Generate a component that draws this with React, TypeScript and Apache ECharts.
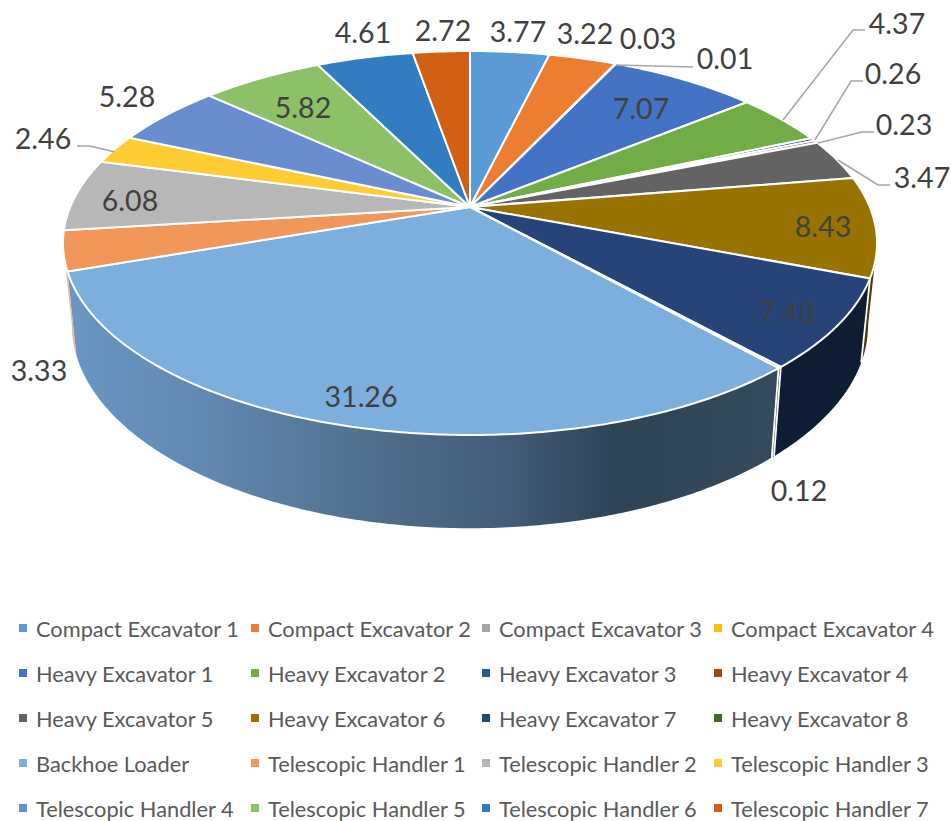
import React, { useEffect, useRef } from "react";
import * as echarts from "echarts";

// Fleet share by machine, in percent, clockwise from twelve o'clock.
const compactExcavators = [3.77, 3.22, 0.03, 0.01];
const heavyExcavators = [7.07, 4.37, 0.26, 0.23, 3.47, 8.43, 7.48, 0.12];
const backhoeLoader = [31.26];
const telescopicHandlers = [3.33, 6.08, 2.46, 5.28, 5.82, 4.61, 2.72];

const categories = [
  "Compact Excavator 1", "Compact Excavator 2", "Compact Excavator 3", "Compact Excavator 4",
  "Heavy Excavator 1", "Heavy Excavator 2", "Heavy Excavator 3", "Heavy Excavator 4",
  "Heavy Excavator 5", "Heavy Excavator 6", "Heavy Excavator 7", "Heavy Excavator 8",
  "Backhoe Loader", "Telescopic Handler 1", "Telescopic Handler 2", "Telescopic Handler 3",
  "Telescopic Handler 4", "Telescopic Handler 5", "Telescopic Handler 6", "Telescopic Handler 7",
];

const sliceColors = [
  "#5B9BD5", "#ED7D31", "#A5A5A5", "#FFC000",
  "#4472C4", "#70AD47", "#255E91", "#9E480E",
  "#636363", "#997300", "#264478", "#43682B",
  "#7CAFDD", "#F1975A", "#B7B7B7", "#FFCD33",
  "#698ED0", "#8CC168", "#327DC2", "#D26012",
];

const values = [...compactExcavators, ...heavyExcavators, ...backhoeLoader, ...telescopicHandlers];
const total = values.reduce((a, b) => a + b, 0);

// Perspective disc: top face and bottom face of the cylinder.
const APEX_X = 470;
const APEX_Y = 207;
const PERSPECTIVE = 0.1875;
const TOP_FACE = { rx: 399.8, ry: 185.25, cy: APEX_Y };
const BOTTOM_FACE = { rx: 391, ry: 196, cy: 287 };
const WALL_FROM = Math.acos(-PERSPECTIVE);
const WALL_TO = 2 * Math.PI - WALL_FROM;

const rimPoint = (face: typeof TOP_FACE, angle: number) => {
  const w = 1 + PERSPECTIVE * Math.cos(angle);
  return [APEX_X + (face.rx * Math.sin(angle)) / w, face.cy - (face.ry * Math.cos(angle)) / w];
};

const arcPoints = (face: typeof TOP_FACE, a: number, b: number) => {
  const steps = Math.max(2, Math.ceil((b - a) / 0.01));
  const pts: number[][] = [];
  for (let i = 0; i <= steps; i++) pts.push(rimPoint(face, a + ((b - a) * i) / steps));
  return pts;
};

// Shaded fills for the slices whose side wall faces the viewer.
const backhoeWall = new echarts.graphic.LinearGradient(0, 0, 1, 0, [
  { offset: 0, color: "#6A97C4" },
  { offset: 0.2, color: "#6188B0" },
  { offset: 0.42, color: "#50708F" },
  { offset: 0.62, color: "#425C78" },
  { offset: 0.77, color: "#2E4356" },
  { offset: 1, color: "#354A5C" },
]);
const wallFills: Record<number, any> = {
  9: "#4D3A00",
  10: "#0E1D33",
  11: "#22351A",
  12: backhoeWall,
  13: "#E8B48C",
};

// Label centres and leader lines, by slice index.
const labelCenters = [
  [518, 31], [585, 33], [648, 38], [725, 58], [641, 108], [897, 23], [893, 73], [904, 124],
  [922, 177], [823, 226], [787, 312], [799, 490], [361, 396], [39, 370], [130, 200], [43, 138],
  [127, 96], [303, 107], [363, 32], [443, 30],
];
const leaders: Record<number, number[][]> = {
  3: [[616, 65], [693, 67]],
  5: [[865, 30], [853, 30], [783, 120]],
  6: [[863, 81], [851, 81], [815, 140]],
  7: [[874, 132], [862, 132], [818, 143]],
  8: [[890, 185], [878, 185], [838, 160]],
  15: [[77, 146], [90, 146], [115, 152]],
};

const LABEL_FONT = '28.5px Lato, "Open Sans", sans-serif';

const makeRenderItem = (index: number) => (_params: any, api: any) => {
  const start = (api.value(1) / total) * 2 * Math.PI;
  const end = ((api.value(1) + api.value(0)) / total) * 2 * Math.PI;
  const children: any[] = [];

  // Side wall, limited to the part of the rim that faces the viewer.
  const wa = Math.max(start, WALL_FROM);
  const wb = Math.min(end, WALL_TO);
  if (wb > wa) {
    const fill = wallFills[index] ?? sliceColors[index];
    children.push({
      type: "polygon",
      z2: 1,
      shape: { points: [...arcPoints(TOP_FACE, wa, wb), ...arcPoints(BOTTOM_FACE, wa, wb).reverse()] },
      style: { fill },
    });
  }
  if (start >= WALL_FROM && start <= Math.PI) {
    const p = rimPoint(TOP_FACE, start);
    const q = rimPoint(BOTTOM_FACE, start);
    children.push({
      type: "line",
      z2: 2,
      shape: { x1: p[0], y1: p[1], x2: q[0], y2: q[1] },
      style: { stroke: "#FFFFFF", lineWidth: 1.8 },
    });
  }

  // Top face.
  children.push({
    type: "polygon",
    z2: 3,
    shape: { points: [[APEX_X, APEX_Y], ...arcPoints(TOP_FACE, start, end)] },
    style: { fill: sliceColors[index], stroke: "#FFFFFF", lineWidth: 2, lineJoin: "round" },
  });

  if (leaders[index]) {
    children.push({
      type: "polyline",
      z2: 4,
      shape: { points: leaders[index] },
      style: { stroke: "#A6A6A6", lineWidth: 1.5, fill: "none" },
    });
  }

  children.push({
    type: "text",
    z2: 5,
    x: labelCenters[index][0],
    y: labelCenters[index][1],
    style: {
      text: api.value(0).toFixed(2),
      fill: "#404040",
      font: LABEL_FONT,
      align: "center",
      verticalAlign: "middle",
    },
  });

  return { type: "group", children };
};

let running = 0;
const series = values.map((value, index) => {
  const startShare = running;
  running += value;
  return {
    type: "custom",
    name: categories[index],
    coordinateSystem: "none",
    silent: true,
    clip: false,
    itemStyle: { color: sliceColors[index] },
    data: [[value, startShare]],
    renderItem: makeRenderItem(index),
  };
});

// Legend runs in four columns, filled row by row.
const legendColumns = [19, 251, 482, 714];
const legend = legendColumns.map((left, col) => ({
  left,
  top: 617,
  orient: "vertical",
  padding: 0,
  itemGap: 23,
  itemWidth: 8,
  itemHeight: 8,
  icon: "rect",
  selectedMode: false,
  textStyle: {
    color: "#595959",
    fontFamily: 'Lato, "Open Sans", sans-serif',
    fontSize: 21.8,
    lineHeight: 20,
    padding: [0, 0, 0, 4],
  },
  data: categories.filter((_, i) => i % 4 === col),
}));

export default function App() {
  const ref = useRef<HTMLDivElement>(null);
  useEffect(() => {
    const chart = echarts.init(ref.current!, undefined, { renderer: "svg" });
    chart.setOption({
      animation: false,
      backgroundColor: "#FFFFFF",
      legend,
      series,
    });
    return () => chart.dispose();
  }, []);
  return <div ref={ref} style={{ position: "absolute", left: 0, top: 0, width: 951, height: 821 }} />;
}
